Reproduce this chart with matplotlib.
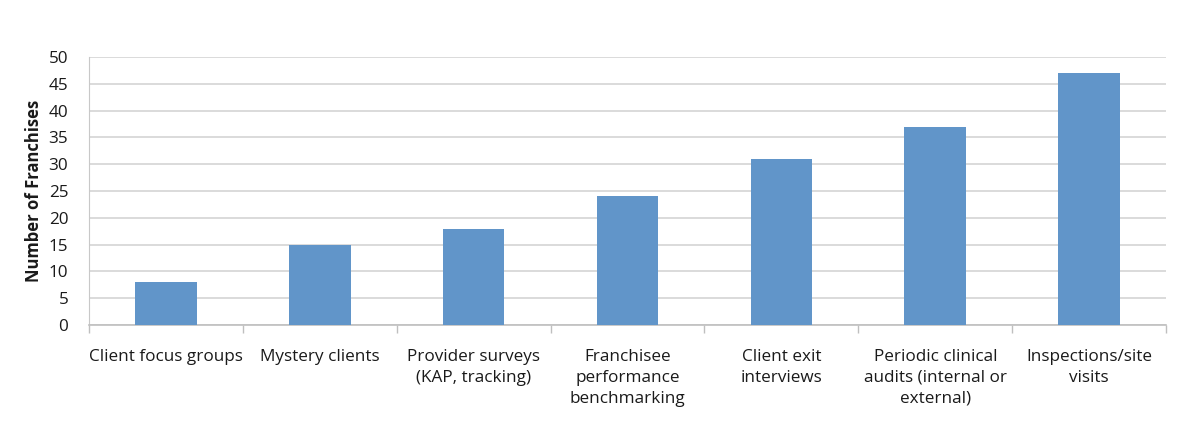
import numpy as np
import matplotlib.pyplot as plt
from matplotlib.ticker import FixedLocator

# Data
categories = ["Client focus groups", "Mystery clients", "Provider surveys\n(KAP, tracking)",
              "Franchisee\nperformance\nbenchmarking", "Client exit\ninterviews",
              "Periodic clinical\naudits (internal or\nexternal)", "Inspections/site\nvisits"]
franchises = [8, 15, 18, 24, 31, 37, 47]
yticks = list(range(0, 55, 5))

plt.rcParams['font.family'] = ['Open Sans', 'DejaVu Sans']

fig = plt.figure(figsize=(12, 4.44), dpi=100)
ax = fig.add_axes([0.0742, 0.268, 0.8975, 0.6036])

x = np.arange(len(categories))
ax.bar(x, franchises, width=0.4, color="#6195C9", zorder=3)

ax.set_xlim(-0.5, len(categories) - 0.5)
ax.set_ylim(0, 50)
ax.set_yticks(yticks)
ax.grid(axis='y', color="#D4D4D4", linewidth=1.2, zorder=0)

# labels at centres, tick marks at category boundaries
ax.set_xticks(x)
ax.set_xticklabels(categories, fontsize=12.3, linespacing=1.42, va='top')
ax.xaxis.set_minor_locator(FixedLocator(np.arange(-0.5, len(categories), 1)))
ax.tick_params(axis='x', which='major', length=0, pad=17, colors="#1a1a1a")
ax.tick_params(axis='x', which='minor', length=6, color="#BFBFBF", width=1)
ax.tick_params(axis='y', length=0, pad=15, labelsize=12.3, colors="#1a1a1a")

for side in ['top', 'right']:
    ax.spines[side].set_visible(False)
ax.spines['left'].set_color("#C8C8C8")
ax.spines['bottom'].set_color("#BFBFBF")
ax.spines['bottom'].set_linewidth(1.2)

ax.set_ylabel("Number of Franchises", fontsize=12, fontweight='bold', labelpad=4, color="#1a1a1a")

fig.savefig("out.png", dpi=100)
